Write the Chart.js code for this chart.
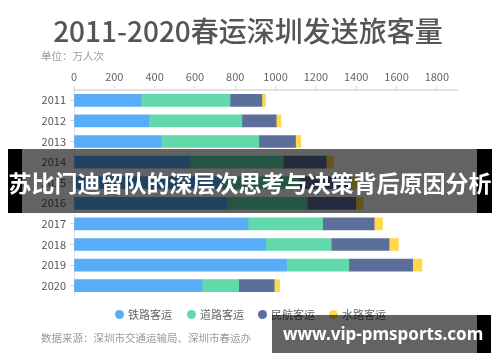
<!DOCTYPE html>
<html>
<head>
<meta charset="utf-8">
<script src="https://cdn.jsdelivr.net/npm/chart.js@4"></script>
<style>
  html, body { margin: 0; padding: 0; background: #fff; }
  #wrap { position: relative; width: 500px; height: 362px; overflow: hidden; background: #fff;
          font-family: "Noto Sans CJK SC", "Noto Sans", sans-serif; }
  #c { position: absolute; left: 0; top: 0; }
  .abs { position: absolute; white-space: nowrap; }
  #title { left: -2px; top: 12px; width: 500px; text-align: center; font-size: 28px; line-height: 36px;
           font-weight: 500; color: #555; }
  #sub { left: 41px; top: 48px; font-size: 10.5px; line-height: 16px; color: #999; }
  #src { left: 41px; top: 330px; font-size: 10.5px; line-height: 16px; color: #999; }
  .lg { position: absolute; top: 306px; height: 16px; line-height: 16px; font-size: 11px; color: #666; }
  .lg i { position: absolute; left: -13px; top: 4px; width: 9px; height: 9px; border-radius: 50%; }
  #banner { left: 8px; top: 149px; width: 484px; height: 64px; }
  #banner .l { position: absolute; left: 0; top: 0; width: 14px; height: 64px; background: #000; }
  #banner .m { position: absolute; left: 14px; top: 0; width: 455px; height: 64px; background: rgba(0,0,0,0.61); }
  #banner .r { position: absolute; left: 469px; top: 0; width: 15px; height: 64px; background: #000; }
  #banner .t { position: absolute; left: -10px; width: 504px; top: 16px; text-align: center; color: #fff;
               font-size: 23px; line-height: 34px; font-weight: 700; }
  #wm { left: 272px; top: 315px; width: 219px; height: 38px; }
  #wm .m { position: absolute; left: 0; top: 0; width: 205px; height: 38px; background: rgba(0,0,0,0.61); }
  #wm .r { position: absolute; left: 205px; top: 0; width: 14px; height: 38px; background: #000; }
  #wm .t { position: absolute; left: 11px; top: 8px; color: #fff; font-family: "Noto Sans", sans-serif;
           font-size: 17px; line-height: 22px; font-weight: 700; }
</style>
</head>
<body>
<div id="wrap">
  <canvas id="c" width="500" height="362"></canvas>
  <div id="title" class="abs">2011-2020春运深圳发送旅客量</div>
  <div id="sub" class="abs">单位：万人次</div>
  <div id="legend"></div>
  <div id="src" class="abs">数据来源：深圳市交通运输局、深圳市春运办</div>
  <div id="banner" class="abs"><div class="l"></div><div class="m"></div><div class="r"></div>
    <div class="t">苏比门迪留队的深层次思考与决策背后原因分析</div></div>
  <div id="wm" class="abs"><div class="m"></div><div class="r"></div><div class="t">www.vip-pmsports.com</div></div>
</div>
<script>
const years = ['2011','2012','2013','2014','2015','2016','2017','2018','2019','2020'];
const seriesNames = ['铁路客运','道路客运','民航客运','水路客运'];
const rail  = [333, 371, 432, 574, 745, 759, 863, 950, 1054, 635];
const road  = [441, 462, 485, 464, 372, 399, 370, 326, 309, 182];
const air   = [158, 170, 182, 213, 255, 240, 256, 287, 317, 176];
const water = [18, 23, 26, 36, 33, 36, 41, 46, 46, 27];
const xTicks = [0, 200, 400, 600, 800, 1000, 1200, 1400, 1600, 1800];
const colors = ['#59adf6', '#62d9ab', '#5b6f9a', '#ffd84b'];
const xMax = 1900;

const values = [rail, road, air, water];
const datasets = seriesNames.map((n, i) => ({
  label: n, data: values[i], backgroundColor: colors[i], borderWidth: 0, barThickness: 12
}));

const lg = document.getElementById('legend');
const lgX = [128, 200, 271, 342];
seriesNames.forEach((n, i) => {
  const d = document.createElement('div');
  d.className = 'lg';
  d.style.left = lgX[i] + 'px';
  d.innerHTML = '<i style="background:' + colors[i] + '"></i>' + n;
  lg.appendChild(d);
});

Chart.defaults.font.family = '"Noto Sans CJK SC", "Noto Sans", sans-serif';
new Chart(document.getElementById('c'), {
  type: 'bar',
  data: { labels: years, datasets },
  options: {
    indexAxis: 'y',
    responsive: false,
    animation: false,
    devicePixelRatio: 1,
    layout: { padding: { left: 0, top: 0, right: 43, bottom: 66 } },
    plugins: { legend: { display: false }, tooltip: { enabled: false }, title: { display: false } },
    scales: {
      x: {
        position: 'top', stacked: true, min: 0, max: xMax,
        ticks: { color: '#666', font: { size: 11 }, padding: 3, autoSkip: false,
                 callback: v => String(v) },
        afterBuildTicks: s => { s.ticks = xTicks.map(v => ({ value: v })); },
        afterFit: s => { s.height = 90; },
        grid: { drawOnChartArea: false, drawTicks: true, tickLength: 4, color: '#d6d6d6' },
        border: { display: true, color: '#e2e2e2', width: 2 }
      },
      y: {
        stacked: true,
        ticks: { color: '#555', font: { size: 11 }, padding: 4 },
        afterFit: s => { s.width = 74; },
        grid: { offset: false, drawOnChartArea: false, drawTicks: true, tickLength: 4, color: '#d6d6d6' },
        border: { display: true, color: '#e2e2e2', width: 1 }
      }
    }
  }
});
</script>
</body>
</html>
